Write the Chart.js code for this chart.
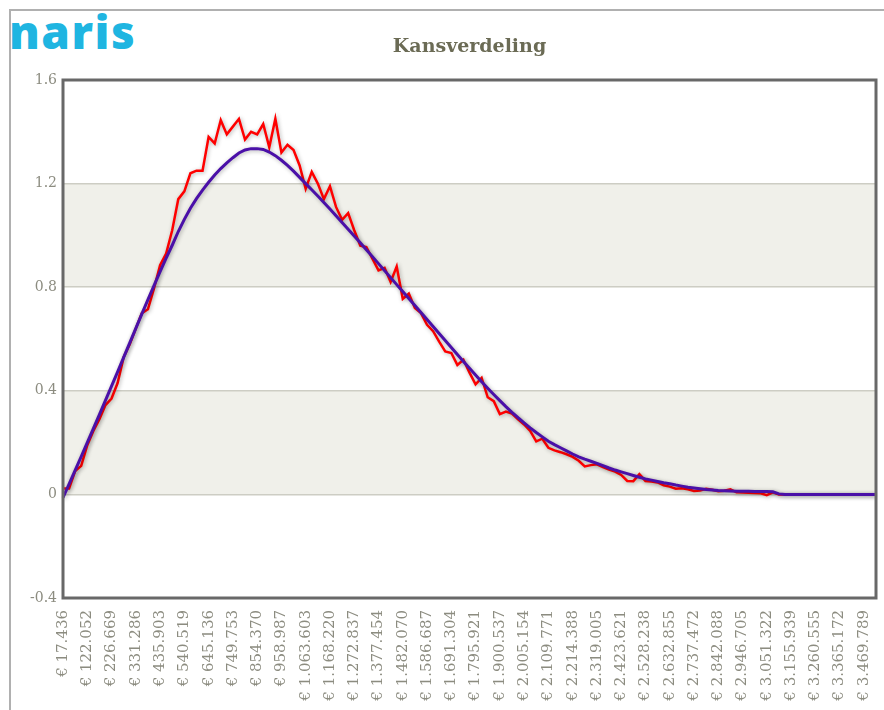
<!DOCTYPE html>
<html>
<head>
<meta charset="utf-8">
<script src="https://cdn.jsdelivr.net/npm/chart.js@4.4.1/dist/chart.umd.min.js"></script>
<style>
  body { margin: 0; background: #fff; width: 884px; height: 710px; overflow: hidden; position: relative; }
  #frame { position: absolute; left: 9px; top: 9px; width: 900px; height: 720px; border-top: 2px solid #b0b0b0; border-left: 2px solid #b0b0b0; }
  #logo { position: absolute; left: 9px; top: 0px; font-family: 'Open Sans', sans-serif; font-weight: 800; font-size: 46px; color: #1fb5e1; letter-spacing: 1.5px; }
  #graph { position: absolute; left: 0; top: 0; }
</style>
</head>
<body>
<div id="frame"></div>
<div id="logo">naris</div>
<canvas id="graph" width="884" height="710"></canvas>
<script>
const chartTitle = 'Kansverdeling';

const tickLabels = [
    "€ 17.436", "€ 122.052", "€ 226.669", "€ 331.286", "€ 435.903", "€ 540.519",
    "€ 645.136", "€ 749.753", "€ 854.370", "€ 958.987", "€ 1.063.603", "€ 1.168.220",
    "€ 1.272.837", "€ 1.377.454", "€ 1.482.070", "€ 1.586.687", "€ 1.691.304", "€ 1.795.921",
    "€ 1.900.537", "€ 2.005.154", "€ 2.109.771", "€ 2.214.388", "€ 2.319.005", "€ 2.423.621",
    "€ 2.528.238", "€ 2.632.855", "€ 2.737.472", "€ 2.842.088", "€ 2.946.705", "€ 3.051.322",
    "€ 3.155.939", "€ 3.260.555", "€ 3.365.172", "€ 3.469.789"
];

// measured distribution (red), 4 points between each tick label
const measured = [
    0.023, 0.023, 0.09, 0.11, 0.19, 0.245, 0.29, 0.345, 0.37, 0.43,
    0.53, 0.58, 0.64, 0.7, 0.715, 0.795, 0.885, 0.93, 1.02, 1.14,
    1.17, 1.24, 1.25, 1.25, 1.38, 1.355, 1.445, 1.39, 1.42, 1.45,
    1.37, 1.4, 1.39, 1.43, 1.34, 1.45, 1.32, 1.35, 1.33, 1.27,
    1.18, 1.245, 1.2, 1.14, 1.19, 1.11, 1.06, 1.086, 1.02, 0.96,
    0.955, 0.91, 0.865, 0.875, 0.82, 0.88, 0.755, 0.775, 0.72, 0.7,
    0.655, 0.63, 0.59, 0.552, 0.546, 0.5, 0.52, 0.47, 0.425, 0.45,
    0.375, 0.36, 0.31, 0.32, 0.312, 0.29, 0.27, 0.245, 0.205, 0.215,
    0.18, 0.17, 0.163, 0.155, 0.145, 0.13, 0.108, 0.113, 0.116, 0.105,
    0.096, 0.088, 0.075, 0.052, 0.051, 0.078, 0.052, 0.05, 0.046, 0.035,
    0.03, 0.022, 0.024, 0.02, 0.013, 0.015, 0.022, 0.018, 0.012, 0.014,
    0.02, 0.008, 0.007, 0.006, 0.005, 0.004, -0.003, 0.008, 0, 0,
    0, 0, 0, 0, 0, 0, 0, 0, 0, 0,
    0, 0, 0, 0, 0
];

// fitted curve (purple)
const fitted = [
    -0.013, 0.04, 0.093, 0.146, 0.2, 0.254, 0.308, 0.363, 0.418, 0.473,
    0.529, 0.585, 0.641, 0.697, 0.752, 0.806, 0.86, 0.912, 0.962, 1.015,
    1.062, 1.105, 1.142, 1.175, 1.205, 1.233, 1.258, 1.28, 1.3, 1.318,
    1.33, 1.335, 1.335, 1.332, 1.322, 1.308, 1.29, 1.27, 1.248, 1.224,
    1.2, 1.176, 1.152, 1.127, 1.102, 1.076, 1.05, 1.024, 0.998, 0.972,
    0.945, 0.918, 0.891, 0.864, 0.837, 0.81, 0.783, 0.756, 0.729, 0.702,
    0.675, 0.648, 0.621, 0.594, 0.567, 0.54, 0.513, 0.487, 0.461, 0.435,
    0.41, 0.386, 0.362, 0.339, 0.317, 0.296, 0.276, 0.257, 0.239, 0.222,
    0.205, 0.192, 0.18, 0.168, 0.156, 0.145, 0.136, 0.128, 0.12, 0.111,
    0.102, 0.094, 0.087, 0.08, 0.073, 0.066, 0.06, 0.055, 0.05, 0.045,
    0.041, 0.036, 0.032, 0.028, 0.025, 0.022, 0.019, 0.017, 0.015, 0.014,
    0.013, 0.012, 0.012, 0.012, 0.011, 0.011, 0.011, 0.01, 0.002, 0,
    0, 0, 0, 0, 0, 0, 0, 0, 0, 0,
    0, 0, 0, 0, 0
];

const bands = [[0, 0.4], [0.8, 1.2]];

const pointsPerLabel = 4;

/** shaded horizontal bands behind the grid */
const bandPlugin = {
    id: 'bands',
    beforeDraw(chart) {
        const { ctx, chartArea, scales } = chart;
        ctx.save();
        ctx.fillStyle = '#f0f0ea';
        bands.forEach(b => {
            const yTop = scales.y.getPixelForValue(b[1]);
            const yBot = scales.y.getPixelForValue(b[0]);
            ctx.fillRect(chartArea.left, yTop, chartArea.right - chartArea.left, yBot - yTop);
        });
        ctx.restore();
    }
};

/** soft glow under the lines, the dark frame round the plot and the title over the plot centre */
const lookPlugin = {
    id: 'look',
    beforeDatasetDraw(chart) {
        const ctx = chart.ctx;
        ctx.save();
        ctx.shadowColor = 'rgba(0,0,0,0.3)';
        ctx.shadowBlur = 4;
        ctx.shadowOffsetX = 1;
        ctx.shadowOffsetY = 1;
    },
    afterDatasetDraw(chart) {
        chart.ctx.restore();
    },
    afterDatasetsDraw(chart) {
        const { ctx, chartArea } = chart;
        ctx.save();
        ctx.strokeStyle = '#686868';
        ctx.lineWidth = 3;
        ctx.strokeRect(chartArea.left, chartArea.top, chartArea.right - chartArea.left, chartArea.bottom - chartArea.top);
        ctx.fillStyle = '#6b6b55';
        ctx.font = 'bold 19px "DejaVu Serif"';
        ctx.textAlign = 'center';
        ctx.textBaseline = 'middle';
        ctx.fillText(chartTitle, (chartArea.left + chartArea.right) / 2, chartArea.top - 33);
        ctx.restore();
    }
};

new Chart(document.getElementById('graph'), {
    type: 'line',
    data: {
        labels: measured.map((v, i) => i),
        datasets: [
            {
                label: 'fit',
                data: fitted,
                borderColor: '#4a10a8',
                borderWidth: 3,
                pointRadius: 0,
                tension: 0
            },
            {
                label: 'kans',
                data: measured,
                borderColor: '#ff0000',
                borderWidth: 2.5,
                pointRadius: 0,
                tension: 0
            }
        ]
    },
    options: {
        responsive: false,
        animation: false,
        devicePixelRatio: 1,
        layout: { padding: { left: 0, right: 8, top: 80, bottom: 0 } },
        plugins: {
            legend: { display: false },
            tooltip: { enabled: false },
            title: { display: false }
        },
        scales: {
            x: {
                grid: { display: false },
                border: { display: false },
                ticks: {
                    autoSkip: false,
                    minRotation: 90,
                    maxRotation: 90,
                    padding: 4,
                    color: '#8c8c80',
                    font: { family: 'DejaVu Serif', size: 15 },
                    callback: (v, i) => (i % pointsPerLabel === 0 ? tickLabels[i / pointsPerLabel] : '')
                },
                afterFit: (scale) => {
                    scale.height = 112;
                    scale.paddingLeft = 0;
                    scale.paddingRight = 0;
                }
            },
            y: {
                min: -0.4,
                max: 1.6,
                grid: { color: '#cdcdc4', lineWidth: 1.5, drawTicks: false },
                border: { display: false },
                ticks: {
                    stepSize: 0.4,
                    padding: 6,
                    color: '#8c8c80',
                    font: { family: 'DejaVu Serif', size: 14 },
                    callback: (v) => String(+v.toFixed(1))
                },
                afterFit: (scale) => {
                    scale.width = 63;
                    scale.paddingTop = 0;
                    scale.paddingBottom = 0;
                }
            }
        }
    },
    plugins: [bandPlugin, lookPlugin]
});
</script>
</body>
</html>
